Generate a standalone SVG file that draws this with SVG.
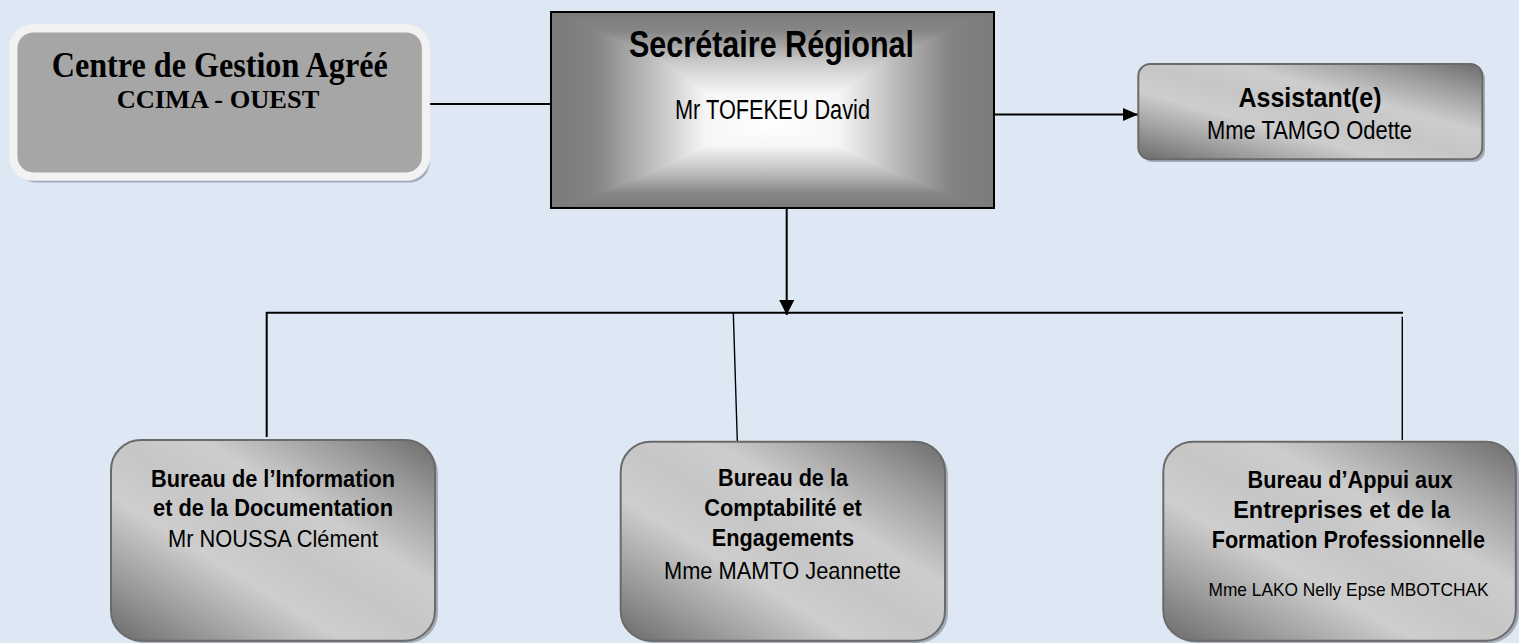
<svg xmlns="http://www.w3.org/2000/svg" width="1519" height="643" viewBox="0 0 1519 643">
<defs>
<style>
.sans{font-family:"Liberation Sans Narrow","Liberation Sans",Arial,sans-serif;fill:#000;text-anchor:middle}
.b{font-weight:bold}
.serif{font-family:"Liberation Serif","Times New Roman",serif;font-weight:bold;fill:#000;text-anchor:middle}
.line{stroke:#000;stroke-width:2;fill:none}
.thin{stroke:#000;stroke-width:1.4;fill:none}
.shadow{fill:#a3acb8}
.metal{fill:url(#metal);stroke:#6a6a6a;stroke-width:2}
</style>
<linearGradient id="metal" x1="0" y1="1" x2="1" y2="0">
<stop offset="0" stop-color="#6a6a6a"/>
<stop offset="0.18" stop-color="#9e9e9e"/>
<stop offset="0.36" stop-color="#cecece"/>
<stop offset="0.5" stop-color="#c6c6c6"/>
<stop offset="0.64" stop-color="#cdcdcd"/>
<stop offset="0.84" stop-color="#9a9a9a"/>
<stop offset="1" stop-color="#6c6c6c"/>
</linearGradient>
<linearGradient id="gh" x1="0" y1="0" x2="1" y2="0">
<stop offset="0" stop-color="#7a7a7a"/>
<stop offset="0.1" stop-color="#848484"/>
<stop offset="0.22" stop-color="#bababa"/>
<stop offset="0.35" stop-color="#f6f6f6"/>
<stop offset="0.5" stop-color="#ffffff"/>
<stop offset="0.65" stop-color="#f6f6f6"/>
<stop offset="0.78" stop-color="#bababa"/>
<stop offset="0.9" stop-color="#848484"/>
<stop offset="1" stop-color="#7a7a7a"/>
</linearGradient>
<linearGradient id="gv" x1="0" y1="0" x2="0" y2="1">
<stop offset="0" stop-color="#7a7a7a"/>
<stop offset="0.1" stop-color="#878787"/>
<stop offset="0.25" stop-color="#c8c8c8"/>
<stop offset="0.42" stop-color="#f7f7f7"/>
<stop offset="0.55" stop-color="#ffffff"/>
<stop offset="0.68" stop-color="#f7f7f7"/>
<stop offset="0.82" stop-color="#bdbdbd"/>
<stop offset="0.92" stop-color="#888888"/>
<stop offset="1" stop-color="#7a7a7a"/>
</linearGradient>
<marker id="arrowDown" markerWidth="15" markerHeight="15" refX="15" refY="7.5" orient="auto" markerUnits="userSpaceOnUse">
<path d="M0,0 L15,7.5 L0,15 Z" fill="#000"/>
</marker>
<marker id="arrowRight" markerWidth="15" markerHeight="13" refX="15" refY="6.5" orient="auto" markerUnits="userSpaceOnUse">
<path d="M0,0 L15,6.5 L0,13 Z" fill="#000"/>
</marker>
</defs>
<rect x="0" y="0" width="1519" height="643" fill="#dde8f4"/>

<g id="connectors">
<line class="line" x1="430" y1="104" x2="550" y2="104"/>
<line class="line" x1="994" y1="114.5" x2="1138" y2="114.5" marker-end="url(#arrowRight)"/>
<line class="line" x1="786.7" y1="208" x2="786.7" y2="315" marker-end="url(#arrowDown)"/>
<line class="line" x1="266" y1="312.7" x2="1403" y2="312.7"/>
<line class="line" x1="266.7" y1="312" x2="266.7" y2="437"/>
<line class="thin" x1="733.3" y1="312.7" x2="737.3" y2="441"/>
<line class="thin" x1="1402.3" y1="316.7" x2="1402.3" y2="440"/>
</g>

<g id="node-cga">
<rect class="shadow" x="16.5" y="31.5" width="413" height="151" rx="20"/>
<rect x="13.3" y="28.3" width="412.7" height="148.3" rx="20" fill="#a6a6a6" stroke="#f2f2f2" stroke-width="8.3"/>
<text class="serif" x="219.7" y="76.7" font-size="35" textLength="336" lengthAdjust="spacingAndGlyphs">Centre de Gestion Agréé</text>
<text class="serif" x="218" y="108.3" font-size="25" textLength="202.7" lengthAdjust="spacingAndGlyphs">CCIMA - OUEST</text>
</g>

<g id="node-sr">
<g style="isolation:isolate">
<rect x="551" y="12" width="443" height="196" fill="url(#gh)"/>
<rect x="551" y="12" width="443" height="196" fill="url(#gv)" style="mix-blend-mode:darken"/>
</g>
<rect x="551" y="12" width="443" height="196" fill="none" stroke="#000" stroke-width="2"/>
<text class="sans b" x="771.5" y="57" font-size="36" textLength="285" lengthAdjust="spacingAndGlyphs">Secrétaire Régional</text>
<text class="sans" x="772.5" y="119" font-size="27" textLength="195" lengthAdjust="spacingAndGlyphs">Mr TOFEKEU David</text>
</g>

<g id="node-assistant">
<rect class="shadow" x="1141" y="67" width="344" height="95" rx="12"/>
<rect class="metal" x="1138.3" y="64" width="344" height="95.3" rx="12"/>
<text class="sans b" x="1310" y="107.3" font-size="28" textLength="143" lengthAdjust="spacingAndGlyphs">Assistant(e)</text>
<text class="sans" x="1309.5" y="139.3" font-size="25" textLength="205" lengthAdjust="spacingAndGlyphs">Mme TAMGO Odette</text>
</g>

<g id="node-bid">
<rect class="shadow" x="114" y="443" width="324" height="200" rx="30"/>
<rect class="metal" x="111" y="440" width="324" height="200.7" rx="30"/>
<text class="sans b" x="273" y="486.7" font-size="23" textLength="244" lengthAdjust="spacingAndGlyphs">Bureau de l’Information</text>
<text class="sans b" x="273" y="515.5" font-size="23" textLength="240" lengthAdjust="spacingAndGlyphs">et de la Documentation</text>
<text class="sans" x="273" y="547.3" font-size="24" textLength="210" lengthAdjust="spacingAndGlyphs">Mr NOUSSA Clément</text>
</g>

<g id="node-bce">
<rect class="shadow" x="623.7" y="444.7" width="324.3" height="198.3" rx="30"/>
<rect class="metal" x="620.7" y="441.7" width="324.3" height="199" rx="30"/>
<text class="sans b" x="783" y="486" font-size="23" textLength="130" lengthAdjust="spacingAndGlyphs">Bureau de la</text>
<text class="sans b" x="783" y="516" font-size="23" textLength="157.7" lengthAdjust="spacingAndGlyphs">Comptabilité et</text>
<text class="sans b" x="783" y="546" font-size="23" textLength="142.3" lengthAdjust="spacingAndGlyphs">Engagements</text>
<text class="sans" x="782.5" y="579.3" font-size="24" textLength="237" lengthAdjust="spacingAndGlyphs">Mme MAMTO Jeannette</text>
</g>

<g id="node-baefp">
<rect class="shadow" x="1166.3" y="444.7" width="352.7" height="198.3" rx="30"/>
<rect class="metal" x="1163.3" y="441.7" width="352.5" height="199" rx="30"/>
<text class="sans b" x="1350" y="488" font-size="24" textLength="205" lengthAdjust="spacingAndGlyphs">Bureau d’Appui aux</text>
<text class="sans b" x="1341.7" y="517.5" font-size="24" textLength="217" lengthAdjust="spacingAndGlyphs">Entreprises et de la</text>
<text class="sans b" x="1348.3" y="547.5" font-size="24" textLength="273.3" lengthAdjust="spacingAndGlyphs">Formation Professionnelle</text>
<text class="sans" x="1348.5" y="596" font-size="18.5" textLength="280" lengthAdjust="spacingAndGlyphs">Mme LAKO Nelly Epse MBOTCHAK</text>
</g>
</svg>
